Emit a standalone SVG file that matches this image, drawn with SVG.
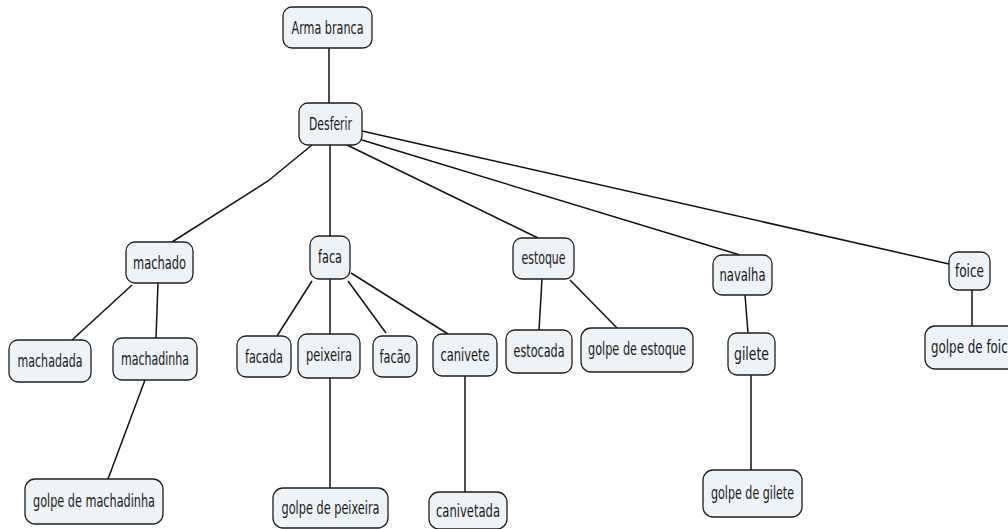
<svg xmlns="http://www.w3.org/2000/svg" width="1008" height="529" viewBox="0 0 1008 529">
  <style>
    .node rect { fill: #edf3f6; stroke: #1e1e1e; stroke-width: 1.3; }
    .node text { font-family: "DejaVu Sans Condensed", "DejaVu Sans", sans-serif; font-size: 17px; fill: #1a1a1a; text-anchor: middle; }
    #connectors line, #connectors polyline { stroke: #111; stroke-width: 1.5; fill: none; }
  </style>
  <rect width="1008" height="529" fill="#ffffff"/>

  <!-- connectors between concepts -->
  <g id="connectors">
    <line x1="329" y1="48" x2="329" y2="103"/>
    <polyline points="312,145 268,181 172,242"/>
    <line x1="330" y1="145" x2="330" y2="236"/>
    <line x1="347" y1="145" x2="538" y2="238"/>
    <line x1="362" y1="140" x2="740" y2="255"/>
    <line x1="362" y1="131" x2="949" y2="264"/>
    <line x1="132" y1="285" x2="72" y2="340"/>
    <line x1="158" y1="283" x2="156" y2="338"/>
    <line x1="145" y1="380" x2="108" y2="479"/>
    <line x1="312" y1="281" x2="277" y2="336"/>
    <line x1="330" y1="279" x2="330" y2="334"/>
    <line x1="348" y1="281" x2="386" y2="333"/>
    <line x1="351" y1="273" x2="448" y2="334"/>
    <line x1="330" y1="378" x2="330" y2="488"/>
    <line x1="465" y1="376" x2="465" y2="492"/>
    <line x1="542" y1="279" x2="539" y2="330"/>
    <line x1="570" y1="280" x2="617" y2="328"/>
    <line x1="745" y1="295" x2="748" y2="333"/>
    <line x1="751" y1="375" x2="751" y2="470"/>
    <line x1="972" y1="290" x2="972" y2="326"/>
  </g>

  <g id="arma-branca" class="node"><rect x="283" y="7" width="89" height="41" rx="9"/><text x="327.5" y="34" textLength="72" lengthAdjust="spacingAndGlyphs">Arma branca</text></g>
  <g id="desferir" class="node"><rect x="299" y="103" width="63" height="42" rx="9"/><text x="330.5" y="130" textLength="43" lengthAdjust="spacingAndGlyphs">Desferir</text></g>

  <g id="machado" class="node"><rect x="126" y="242" width="67" height="41" rx="9"/><text x="159.5" y="269" textLength="53" lengthAdjust="spacingAndGlyphs">machado</text></g>
  <g id="machadada" class="node"><rect x="9" y="340" width="82" height="42" rx="9"/><text x="50" y="367" textLength="65" lengthAdjust="spacingAndGlyphs">machadada</text></g>
  <g id="machadinha" class="node"><rect x="113" y="338" width="84" height="42" rx="9"/><text x="155" y="365" textLength="68" lengthAdjust="spacingAndGlyphs">machadinha</text></g>
  <g id="golpe-de-machadinha" class="node"><rect x="25" y="479" width="138" height="45" rx="10"/><text x="94" y="507" textLength="122" lengthAdjust="spacingAndGlyphs">golpe de machadinha</text></g>

  <g id="faca" class="node"><rect x="310" y="236" width="40" height="43" rx="9"/><text x="330" y="263" textLength="24" lengthAdjust="spacingAndGlyphs">faca</text></g>
  <g id="facada" class="node"><rect x="237" y="336" width="54" height="41" rx="9"/><text x="264" y="363" textLength="38" lengthAdjust="spacingAndGlyphs">facada</text></g>
  <g id="peixeira" class="node"><rect x="298" y="334" width="62" height="44" rx="9"/><text x="329" y="361" textLength="46" lengthAdjust="spacingAndGlyphs">peixeira</text></g>
  <g id="facao" class="node"><rect x="373" y="336" width="44" height="41" rx="9"/><text x="395" y="363" textLength="31" lengthAdjust="spacingAndGlyphs">facão</text></g>
  <g id="canivete" class="node"><rect x="433" y="334" width="64" height="42" rx="9"/><text x="465" y="361" textLength="49" lengthAdjust="spacingAndGlyphs">canivete</text></g>
  <g id="golpe-de-peixeira" class="node"><rect x="273" y="488" width="115" height="40" rx="10"/><text x="330.5" y="514" textLength="98" lengthAdjust="spacingAndGlyphs">golpe de peixeira</text></g>
  <g id="canivetada" class="node"><rect x="429" y="492" width="78" height="37" rx="10"/><text x="468" y="517" textLength="64" lengthAdjust="spacingAndGlyphs">canivetada</text></g>

  <g id="estoque" class="node"><rect x="513" y="238" width="61" height="41" rx="9"/><text x="543.5" y="264" textLength="44" lengthAdjust="spacingAndGlyphs">estoque</text></g>
  <g id="estocada" class="node"><rect x="506" y="330" width="66" height="43" rx="9"/><text x="539" y="357" textLength="51" lengthAdjust="spacingAndGlyphs">estocada</text></g>
  <g id="golpe-de-estoque" class="node"><rect x="581" y="328" width="112" height="44" rx="10"/><text x="637" y="355" textLength="98" lengthAdjust="spacingAndGlyphs">golpe de estoque</text></g>

  <g id="navalha" class="node"><rect x="713" y="255" width="59" height="40" rx="9"/><text x="742.5" y="281" textLength="46" lengthAdjust="spacingAndGlyphs">navalha</text></g>
  <g id="gilete" class="node"><rect x="728" y="333" width="47" height="42" rx="9"/><text x="751.5" y="360" textLength="35" lengthAdjust="spacingAndGlyphs">gilete</text></g>
  <g id="golpe-de-gilete" class="node"><rect x="703" y="470" width="99" height="47" rx="10"/><text x="752.5" y="499" textLength="83" lengthAdjust="spacingAndGlyphs">golpe de gilete</text></g>

  <g id="foice" class="node"><rect x="949" y="252" width="41" height="38" rx="9"/><text x="969.5" y="277" textLength="29" lengthAdjust="spacingAndGlyphs">foice</text></g>
  <g id="golpe-de-foice" class="node"><rect x="925" y="326" width="96" height="43" rx="10"/><text x="973" y="353" textLength="84" lengthAdjust="spacingAndGlyphs">golpe de foice</text></g>
</svg>
